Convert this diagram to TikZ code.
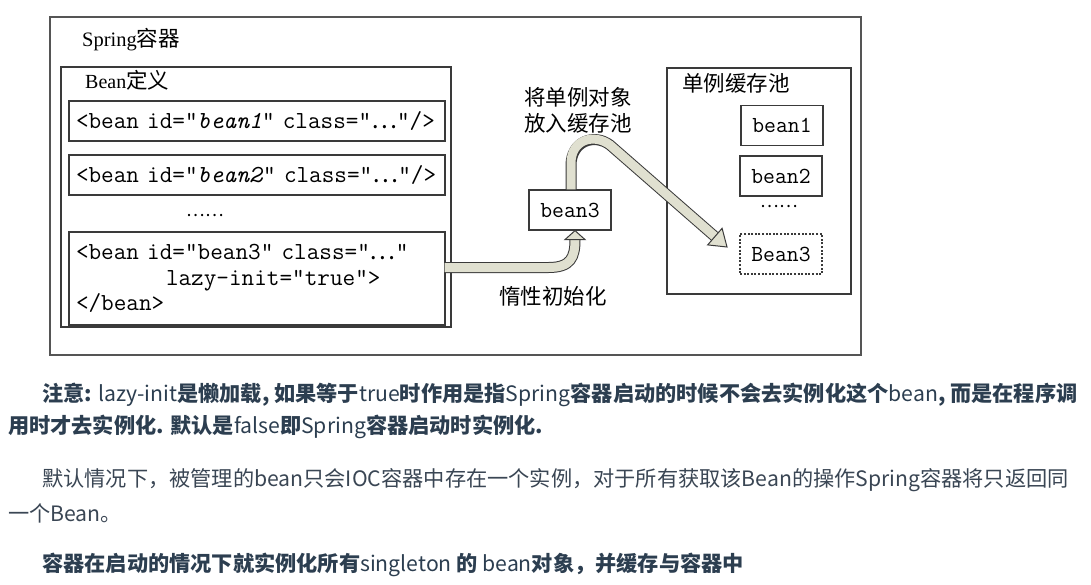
\documentclass[tikz,border=0pt]{standalone}
\usepackage{fontspec}
\setmainfont{Liberation Serif}
\newfontfamily\cjk{Noto Sans CJK SC}
\definecolor{boxline}{HTML}{3A3A3A}
\definecolor{outerline}{HTML}{555555}
\definecolor{arrowfill}{HTML}{E0E0D0}
\definecolor{txtbold}{HTML}{2C3E50}
\definecolor{txtreg}{HTML}{3A4654}
\newcommand{\myell}{{\cjk …}}
\tikzset{
  box/.style={draw=boxline, line width=1.2pt, fill=white, inner sep=0pt},
  codebox/.style={box, minimum width=376pt, minimum height=40pt, text width=362pt, inner xsep=7pt, align=left, font=\fontsize{24.5}{25.5}\selectfont\ttfamily},
  smallbox/.style={box, minimum width=82pt, minimum height=40pt, font=\fontsize{23}{24}\selectfont\ttfamily},
  lbl/.style={inner sep=0pt, font=\fontsize{21.5}{26}\selectfont\cjk, text=black},
  dotsl/.style={inner sep=0pt, font=\fontsize{17.5}{20}\selectfont\cjk, text=black},
  body/.style={inner sep=0pt, anchor=west, font=\fontsize{21.2}{24}\selectfont\cjk},
  fatout/.style={draw=boxline, line width=11pt},
  fatin/.style={draw=arrowfill, line width=9pt},
  head/.style={fill=arrowfill, draw=boxline, line width=1pt, line join=miter}
}
\begin{document}
\begin{tikzpicture}[x=1pt,y=-1pt]
\useasboundingbox[fill=white] (0,0) rectangle (1091,585);
% containers
\node[draw=outerline, line width=1.2pt, minimum width=811pt, minimum height=338pt, inner sep=0pt] (spring) at (455.5,186) {};
\node[inner sep=0pt, anchor=west, font=\fontsize{20.5}{24}\selectfont] (springlbl) at (82,40) {Spring{\fontsize{21.5}{24}\selectfont\cjk 容器}};
\node[draw=boxline, line width=1.2pt, minimum width=390pt, minimum height=260pt, inner sep=0pt] (defs) at (256,197) {};
\node[inner sep=0pt, anchor=west, font=\fontsize{20}{24}\selectfont] (defslbl) at (85,80) {Bean{\fontsize{21.5}{24}\selectfont\cjk 定义}};
\node[codebox] (def1) at (257,121) {<bean id="\textit{bean1}" class="\myell"/>};
\node[codebox] (def2) at (257,175) {<bean id="\textit{bean2}" class="\myell"/>};
\node[dotsl] (ddots) at (205,216) {……};
\node[codebox, minimum height=93pt] (def3) at (257,278.5) {<bean id="bean3" class="\myell"\\\hspace*{90pt}lazy-init="true">\\</bean>};
% cache pool
\node[draw=boxline, line width=1.2pt, minimum width=184pt, minimum height=226pt, inner sep=0pt] (pool) at (759,181) {};
\node[lbl, anchor=west] (poollbl) at (682,83) {单例缓存池};
\node[smallbox] (c1) at (782,125.5) {bean1};
\node[smallbox] (c2) at (781,176) {bean2};
\node[dotsl] (cdots) at (779,207) {……};
\node[smallbox, line width=2pt, dash pattern=on 2pt off 1.6pt] (c3) at (781,254) {Bean3};
% bean3 instance
\node[smallbox] (b3) at (570,210) {bean3};
\node[lbl, align=center] (putlbl) at (578,110) {将单例对象\\放入缓存池};
\node[lbl] (lazylbl) at (553,296) {惰性初始化};
% arrow 1: lazy init
\coordinate (a1s) at ([yshift=11pt]def3.east);
\coordinate (a1e) at ([xshift=5pt,yshift=-9pt]b3.south);
\draw[fatout] (a1s) -- ++(103,0) .. controls +(22,0) and +(0,18) .. (a1e);
\draw[fatin] ([xshift=-1pt]a1s) -- ++(104,0) .. controls +(22,0) and +(0,18) .. (a1e);
\draw[head] ([xshift=5pt]b3.south) -- ++(-10,9) -- ++(20,0) -- cycle;
% arrow 2: put into pool
\coordinate (a2s) at ([xshift=1pt,yshift=-1pt]b3.north);
\coordinate (a2b) at (714.9,236.6);
\draw[fatout] (a2s) -- ++(0,-25) .. controls +(0,-24) and +(-16,-12) .. (610,145) -- (a2b);
\draw[fatin] ([yshift=1pt]a2s) -- ++(0,-26) .. controls +(0,-24) and +(-16,-12) .. (610,145) -- (a2b);
\draw[head] (727,247) -- (707.7,244.9) -- (722.1,228.3) -- cycle;
% body text
\node[body] (t1) at (42,395) {\color{txtbold}{\bfseries 注意:} lazy-init{\bfseries 是懒加载,} {\bfseries 如果等于}true{\bfseries 时作用是指}Spring{\bfseries 容器启动的时候不会去实例化这个}bean{\bfseries , 而是在程序调}};
\node[body] (t2) at (8,427) {\color{txtbold}{\bfseries 用时才去实例化. 默认是}false{\bfseries 即}Spring{\bfseries 容器启动时实例化.}};
\node[body, text=txtreg] (t3) at (42,480) {默认情况下，被管理的bean只会IOC容器中存在一个实例，对于所有获取该Bean的操作Spring容器将只返回同};
\node[body, text=txtreg] (t4) at (8,513) {一个Bean。};
\node[body] (t5) at (42,565) {\color{txtbold}{\bfseries 容器在启动的情况下就实例化所有}singleton {\bfseries 的} bean{\bfseries 对象，并缓存与容器中}};
\end{tikzpicture}
\end{document}
